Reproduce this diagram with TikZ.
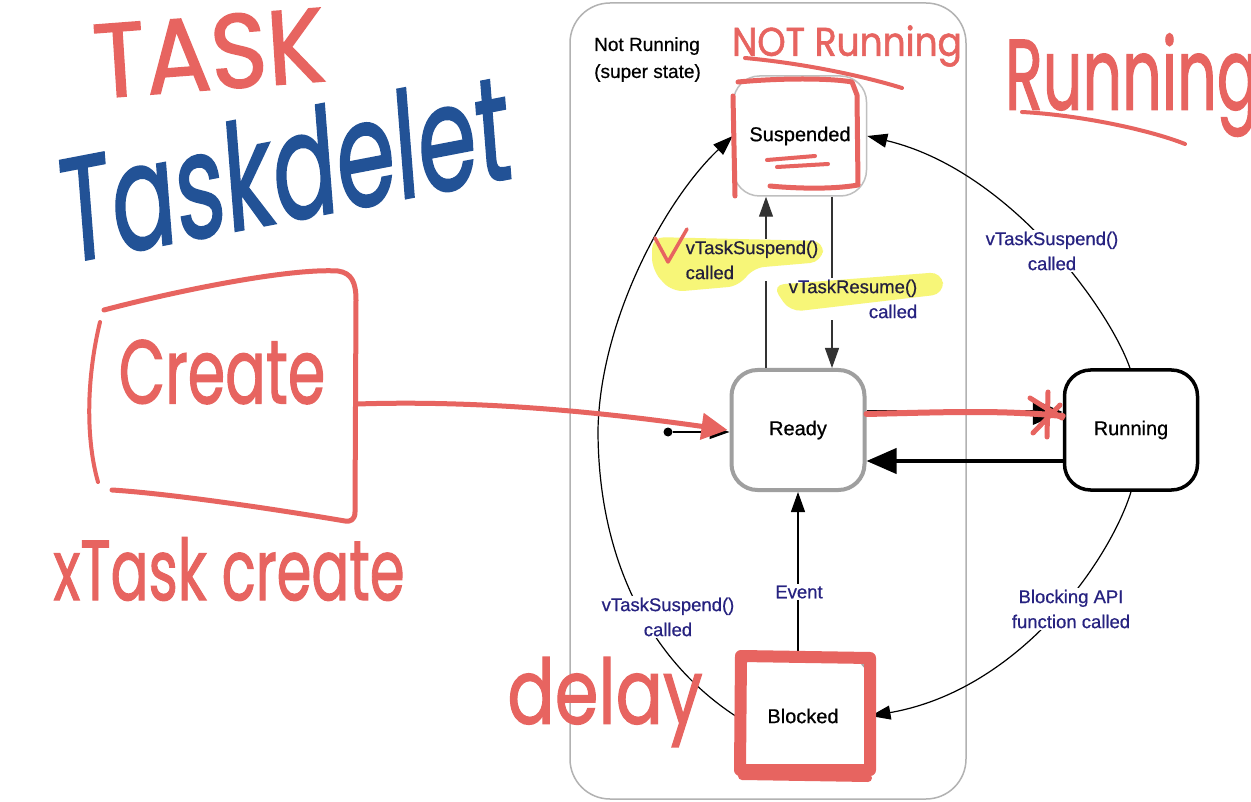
\documentclass[tikz,border=0pt]{standalone}
\usepackage{fontspec}
\setmainfont{Liberation Sans}[FakeBold=0.6]
\newfontfamily\handfont{Poppins}[FakeBold=1.5]
\usetikzlibrary{arrows.meta}

\definecolor{marker}{RGB}{231,100,96}
\definecolor{bluepen}{RGB}{34,82,150}
\definecolor{navy}{RGB}{38,34,128}
\definecolor{hilite}{RGB}{247,246,120}

\tikzset{
  state/.style={draw=gray!70,rounded corners=26pt,minimum width=133pt,
    minimum height=120pt,fill=white,font=\fontsize{20}{24}\selectfont},
  evlabel/.style={text=navy,fill=white,inner sep=2pt,align=center,
    font=\fontsize{18.5}{25}\selectfont},
  thin arrow/.style={-{Triangle[length=20pt,width=14pt]},line width=1.2pt},
  fat arrow/.style={-{Triangle[length=30pt,width=25pt]},line width=4pt},
  redpen/.style={draw=marker,line width=5pt,line cap=round,line join=round},
  scribble/.style={text=marker,inner sep=0pt},
}

\begin{document}
\begin{tikzpicture}[x=1pt,y=-1pt]
\useasboundingbox (0,0) rectangle (1251,802);
\fill[white] (0,0) rectangle (1251,802);

% the super state frame
\draw[gray!60,line width=1.5pt,rounded corners=40pt] (570,3) rectangle (966,799);
\node[anchor=north west,align=left,inner sep=0pt,font=\fontsize{19}{27}\selectfont]
  (super) at (594,37) {Not Running\\(super state)};

% the states
\node[state,line width=1.5pt,draw=gray!50] (susp) at (800,136) {Suspended};
\node[state,line width=4pt,draw=gray!75] (ready) at (798,430) {Ready};
\node[state,line width=3.5pt,draw=black] (run) at (1131,430) {Running};
\node[state,line width=2pt] (block) at (803,716) {Blocked};
\node[circle,fill=black,inner sep=0pt,minimum size=9pt] (start) at (668,432) {};

% transitions
\draw[thin arrow] (start) -- (ready.west |- start);
\draw[thin arrow,gray!40!black] ([xshift=-32pt]ready.north) -- ([xshift=-34pt]susp.south);
\draw[thin arrow,gray!40!black] ([xshift=32pt]susp.south) -- ([xshift=34pt]ready.north);
\draw[fat arrow] ([yshift=18pt]ready.east) -- ([yshift=18pt]run.west);
\draw[fat arrow] ([yshift=-31pt]run.west) -- ([yshift=-31pt]ready.east);
\draw[thin arrow] ([xshift=-1pt]run.north) .. controls (1110,310) and (1010,170) .. (susp.east);
\draw[thin arrow] (run.south) .. controls (1110,560) and (1020,690) .. (block.east);
\draw[thin arrow] (block.north -| ready.south) -- (ready.south);
\draw[thin arrow] (block.west) .. controls (650,660) and (598,560) .. (598,430)
  .. controls (600,320) and (665,200) .. (susp.west);

% labels on the transitions
\node[evlabel,align=left] (sus1) at (752,260) {vTaskSuspend()\\called};
\node[evlabel,align=right] (res) at (853,299) {vTaskResume()\\called};
\node[evlabel] (sus2) at (1052,251) {vTaskSuspend()\\called};
\node[evlabel] (sus3) at (668,617) {vTaskSuspend()\\called};
\node[evlabel] (blk) at (1071,609) {Blocking API\\function called};
\node[evlabel] (evt) at (799,592) {Event};

% the highlighter
\begin{scope}[blend mode=multiply]
\fill[hilite,rounded corners=12pt] (652,237) -- (824,241) -- (822,262) -- (752,268)
  -- (740,286) -- (672,292) -- (652,270) -- cycle;
\fill[hilite,rounded corners=12pt] (772,285) -- (942,272) -- (944,294) -- (790,312) -- cycle;
\end{scope}

% the red pen
\draw[redpen,line width=3.5pt] (655,238) -- (668,262) -- (687,229);
\draw[redpen] (738,82) .. controls (780,78) and (830,78) .. (852,82) -- (857,95)
  -- (858,185) .. controls (830,190) and (790,188) .. (770,186);
\draw[redpen] (733,96) -- (735,196);
\draw[redpen,line width=4pt] (767,160) -- (815,156) (777,167) -- (828,164);
\draw[redpen,line width=12pt] (741,656) -- (870,658) -- (870,770) -- (740,770) -- cycle;
\draw[redpen,line width=8pt] (742,776) -- (868,778);
% the create box
\draw[redpen] (104,310) .. controls (180,290) and (290,268) .. (338,271)
  .. controls (352,273) and (356,283) .. (356,300) -- (355,512)
  .. controls (355,520) and (350,522) .. (345,521)
  .. controls (250,505) and (160,493) .. (112,490);
\draw[redpen,line width=4pt] (100,322) .. controls (86,380) and (86,440) .. (98,482);
\coordinate (cout) at (357,404);
\draw[redpen,-{Triangle[length=26pt,width=26pt]}] (cout) .. controls (480,400) and (600,412)
  .. ([xshift=-2pt]ready.west);
\draw[redpen,line width=6pt] ([yshift=16pt]ready.east) .. controls (950,412) and (1000,410)
  .. ([yshift=14pt]run.west);
\draw[redpen,line width=5pt] (1030,398) -- (1062,418) (1048,392) -- (1047,437)
  (1033,433) -- (1060,405);
\draw[redpen,line width=4pt] (745,58) .. controls (800,63) and (860,75) .. (902,88);
\draw[redpen,line width=4pt] (1022,112) .. controls (1080,115) and (1150,130) .. (1185,144);

% handwriting
\node[scribble,font=\handfont\fontsize{105}{105}\selectfont,xscale=0.92,rotate=4]
  (task) at (209,53) {TASK};
\node[text=bluepen,inner sep=0pt,font=\handfont\fontsize{148}{148}\selectfont,
  xscale=0.64,rotate=7] (del) at (285,167) {Taskdelet};
\node[scribble,font=\handfont\fontsize{90}{90}\selectfont,xscale=0.67]
  (create) at (222,372) {Create};
\node[scribble,font=\handfont\fontsize{85}{85}\selectfont,xscale=0.66]
  (xcreate) at (229,569) {xTask create};
\node[scribble,font=\handfont\fontsize{90}{90}\selectfont,xscale=0.78]
  (delay) at (605,702) {delay};
\node[scribble,font=\handfont\fontsize{40}{40}\selectfont,xscale=0.9]
  (nr) at (847,46) {NOT Running};
\node[scribble,font=\handfont\fontsize{100}{100}\selectfont,xscale=0.62,anchor=west]
  (runhand) at (1005,85) {Running};
\end{tikzpicture}
\end{document}
